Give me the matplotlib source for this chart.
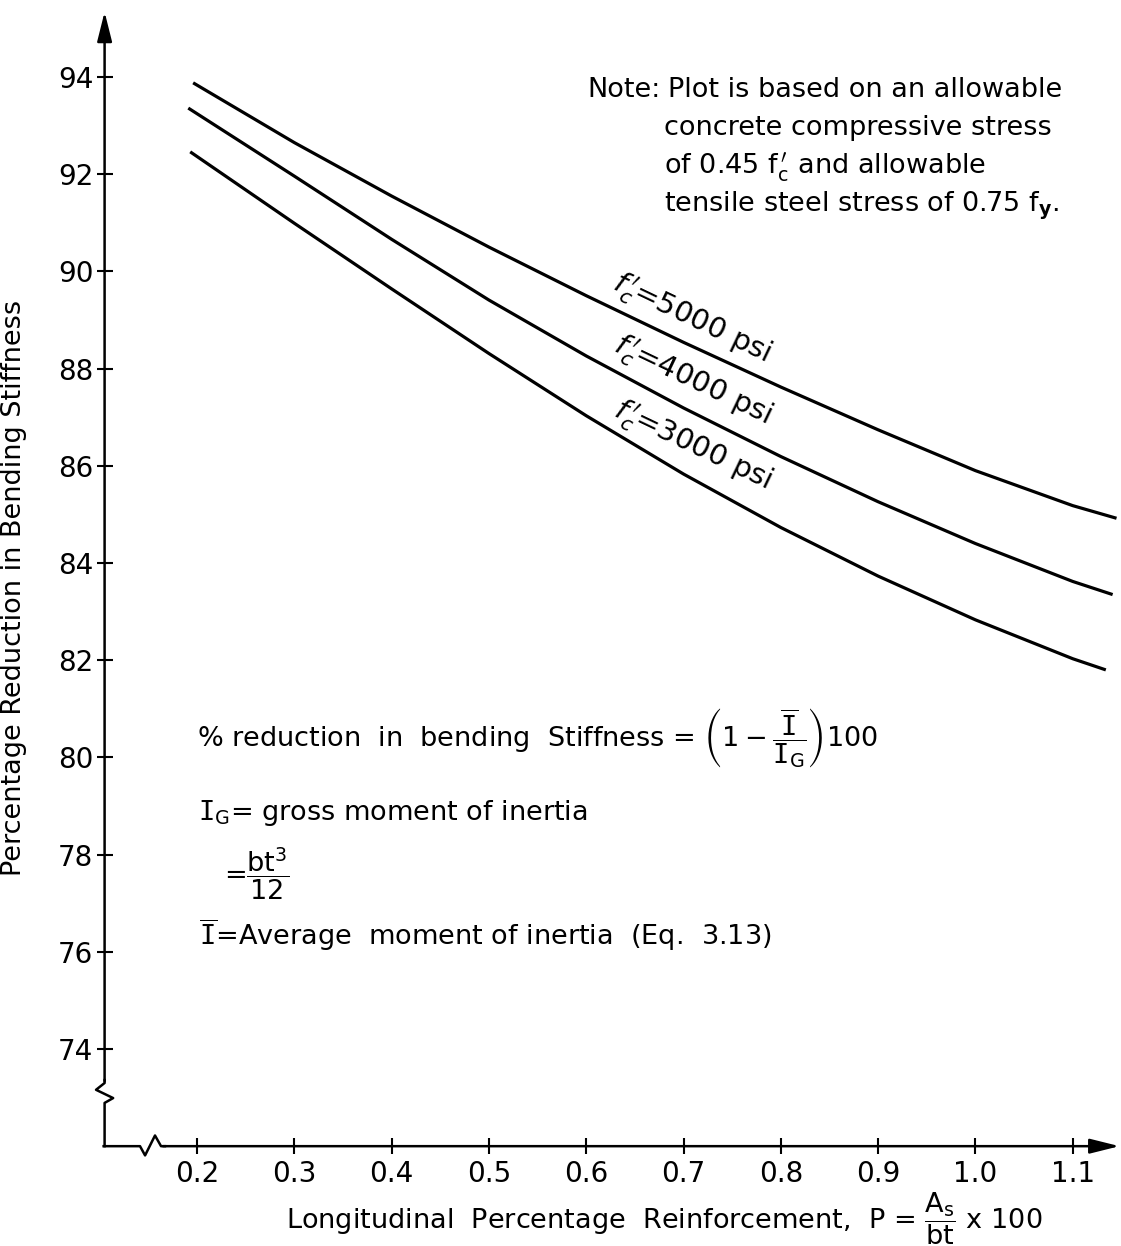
import matplotlib
matplotlib.use("Agg")
import matplotlib.pyplot as plt

plt.rcParams["font.family"] = "DejaVu Sans"
plt.rcParams["mathtext.fontset"] = "dejavusans"

# values: longitudinal % reinforcement vs % reduction in stiffness
p_5000 = [0.196, 0.3, 0.4, 0.5, 0.6, 0.7, 0.8, 0.9, 1.0, 1.1, 1.145]
red_5000 = [93.88, 92.65, 91.55, 90.50, 89.50, 88.54, 87.62, 86.74, 85.90, 85.18, 84.92]
p_4000 = [0.191, 0.3, 0.4, 0.5, 0.6, 0.7, 0.8, 0.9, 1.0, 1.1, 1.141]
red_4000 = [93.36, 91.96, 90.66, 89.41, 88.26, 87.19, 86.19, 85.26, 84.40, 83.62, 83.35]
p_3000 = [0.193, 0.3, 0.4, 0.5, 0.6, 0.7, 0.8, 0.9, 1.0, 1.1, 1.134]
red_3000 = [92.46, 90.99, 89.64, 88.31, 87.03, 85.83, 84.73, 83.73, 82.83, 82.03, 81.80]

x_ticks = [0.2, 0.3, 0.4, 0.5, 0.6, 0.7, 0.8, 0.9, 1.0, 1.1]
x_tick_labels = ["0.2", "0.3", "0.4", "0.5", "0.6", "0.7", "0.8", "0.9", "1.0", "1.1"]
y_ticks = [74, 76, 78, 80, 82, 84, 86, 88, 90, 92, 94]

curve_labels = [
    r"$f^{\,\prime}_{c}$=5000 psi",
    r"$f^{\,\prime}_{c}$=4000 psi",
    r"$f^{\,\prime}_{c}$=3000 psi",
]

W, H = 1121, 1246
FS = 19.5
LW_AXIS = 1.8
LW_CURVE = 2.3

# where the hand-drawn axes sit (data units)
Y_AXIS_X = 0.105
X_AXIS_Y = 72.0
Y_TOP = 95.34
X_RIGHT = 1.148


def fig_xy(px, py):
    return px / W, 1 - py / H


fig = plt.figure(figsize=(W / 100, H / 100), dpi=100)
ax = fig.add_axes([0, 0, 1, 1])
ax.set_xlim(-0.0025, 1.1496)
ax.set_ylim(69.946, 95.584)
ax.patch.set_visible(False)

for s in ax.spines.values():
    s.set_visible(False)
ax.spines["left"].set_position(("data", Y_AXIS_X))
ax.spines["bottom"].set_position(("data", X_AXIS_Y))

# curves
for p, red in [(p_5000, red_5000), (p_4000, red_4000), (p_3000, red_3000)]:
    ax.plot(p, red, color="black", lw=LW_CURVE, solid_capstyle="butt",
            solid_joinstyle="round")

arrow_style = dict(arrowstyle="-|>,head_length=1.0,head_width=0.25",
                   mutation_scale=18, color="black", lw=LW_AXIS,
                   shrinkA=0, shrinkB=0)

# y axis with break
dx = 0.0088
ax.plot([Y_AXIS_X, Y_AXIS_X, Y_AXIS_X + dx, Y_AXIS_X - dx, Y_AXIS_X, Y_AXIS_X],
        [X_AXIS_Y, 72.89, 72.99, 73.16, 73.30, 73.36],
        color="black", lw=LW_AXIS)
ax.annotate("", xy=(Y_AXIS_X, Y_TOP), xytext=(Y_AXIS_X, 73.34), arrowprops=arrow_style)

# x axis with break
ax.plot([Y_AXIS_X - 0.001, 0.1414, 0.1466, 0.1568, 0.1630, 0.167],
        [X_AXIS_Y, X_AXIS_Y, X_AXIS_Y - 0.19, X_AXIS_Y + 0.22, X_AXIS_Y, X_AXIS_Y],
        color="black", lw=LW_AXIS)
ax.annotate("", xy=(X_RIGHT, X_AXIS_Y), xytext=(0.165, X_AXIS_Y), arrowprops=arrow_style)

ax.set_xticks(x_ticks)
ax.set_xticklabels(x_tick_labels)
ax.set_yticks(y_ticks)
ax.tick_params(axis="both", direction="inout", length=11, width=1.5,
               labelsize=20, color="black")
ax.tick_params(axis="x", pad=4.5)
ax.tick_params(axis="y", pad=2.5)

ax.set_ylabel("Percentage Reduction in Bending Stiffness", fontsize=FS)
ax.yaxis.set_label_coords(*fig_xy(27, 588))
ax.set_xlabel(r"Longitudinal  Percentage  Reinforcement,  P = $\dfrac{\mathrm{A_s}}{\mathrm{bt}}$ x 100",
              fontsize=FS, va="center")
ax.xaxis.set_label_coords(*fig_xy(664, 1219))

# curve labels
label_pos = [(691, 320), (692, 382), (692, 447)]
for txt, (px, py) in zip(curve_labels, label_pos):
    ax.text(*fig_xy(px, py), txt, transform=ax.transAxes, fontsize=21,
            rotation=-25.5, rotation_mode="anchor", ha="center", va="center")

# note
ax.text(*fig_xy(587, 97), "Note:", transform=ax.transAxes, fontsize=FS, va="baseline")
ax.text(*fig_xy(668, 97), "Plot is based on an allowable", transform=ax.transAxes,
        fontsize=FS, va="baseline")
ax.text(*fig_xy(664, 135), "concrete compressive stress", transform=ax.transAxes,
        fontsize=FS, va="baseline")
ax.text(*fig_xy(664, 174), r"of 0.45 $\mathrm{f}^{\,\prime}_{\mathrm{c}}$ and allowable",
        transform=ax.transAxes, fontsize=FS, va="baseline")
ax.text(*fig_xy(664, 212), r"tensile steel stress of 0.75 $\mathrm{f}_{\mathbf{y}}$.",
        transform=ax.transAxes, fontsize=FS, va="baseline")

# formula block
ax.text(*fig_xy(197, 747),
        r"% reduction  in  bending  Stiffness = $\left(1-\dfrac{\overline{\mathtt{I}}}{\mathtt{I}_{\mathrm{G}}}\right)$100",
        transform=ax.transAxes, fontsize=FS, va="baseline")
ax.text(*fig_xy(198, 820), r"$\mathtt{I}_{\mathrm{G}}$= gross moment of inertia",
        transform=ax.transAxes, fontsize=FS, va="baseline")
ax.text(*fig_xy(224, 874), r"=$\dfrac{\mathrm{bt^3}}{\mathrm{12}}$",
        transform=ax.transAxes, fontsize=FS, va="center")
ax.text(*fig_xy(199, 945), r"$\overline{\mathtt{I}}$=Average  moment of inertia  (Eq.  3.13)",
        transform=ax.transAxes, fontsize=FS, va="baseline")

fig.savefig("out.png", dpi=100, facecolor="white")
